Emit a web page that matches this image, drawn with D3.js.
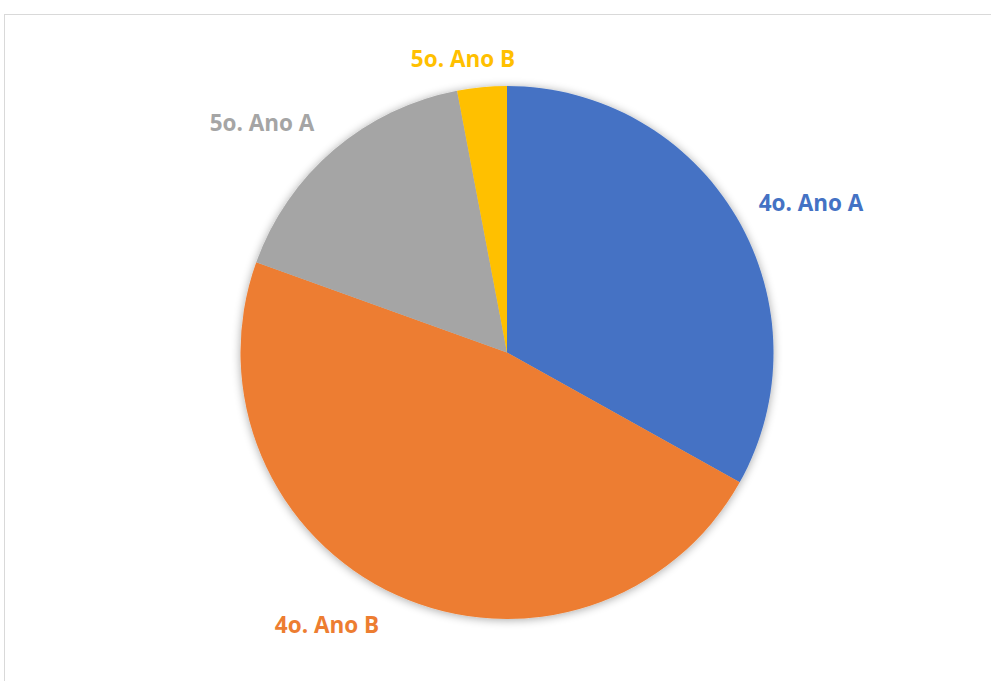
<!DOCTYPE html>
<html><head><meta charset="utf-8">
<script src="https://cdn.jsdelivr.net/npm/d3@7"></script>
<style>html,body{margin:0;padding:0;background:#fff;}svg{display:block;}</style>
</head><body>
<script>
const categories = ["4o. Ano A", "4o. Ano B", "5o. Ano A", "5o. Ano B"];
const values = [33.1, 47.4, 16.5, 3.0];
const colors = ["#4472C4", "#ED7D31", "#A5A5A5", "#FFC000"];
const labelPos = [[811, 211], [327, 633], [262, 131], [463, 67]];

const W = 991, H = 681;
const svg = d3.select("body").append("svg").attr("width", W).attr("height", H);
const defs = svg.append("defs");
const f = defs.append("filter").attr("id","sh").attr("x","-20%").attr("y","-20%").attr("width","140%").attr("height","140%");
f.append("feGaussianBlur").attr("in","SourceAlpha").attr("stdDeviation",5).attr("result","b");
f.append("feOffset").attr("in","b").attr("dx",0).attr("dy",1).attr("result","o");
f.append("feComponentTransfer").attr("in","o").attr("result","oc").append("feFuncA").attr("type","linear").attr("slope",0.35);
const m = f.append("feMerge"); m.append("feMergeNode").attr("in","oc"); m.append("feMergeNode").attr("in","SourceGraphic");

svg.append("rect").attr("x",4.5).attr("y",14.5).attr("width",W).attr("height",H)
  .attr("fill","#fff").attr("stroke","#d9d9d9").attr("stroke-width",1);

const cx = 507, cy = 352.5, r = 266.5;
const pie = d3.pie().sort(null).value(d => d)(values);
const arc = d3.arc().innerRadius(0).outerRadius(r);
const g = svg.append("g").attr("transform", `translate(${cx},${cy})`).attr("filter","url(#sh)");
g.selectAll("path").data(pie).join("path").attr("d", arc).attr("fill", (d,i) => colors[i]);

svg.selectAll("text.lbl").data(categories).join("text").attr("class","lbl")
  .attr("x",(d,i)=>labelPos[i][0]).attr("y",(d,i)=>labelPos[i][1])
  .attr("text-anchor","middle").attr("font-family","'Open Sans', sans-serif")
  .attr("font-weight",700).attr("font-size",22.5)
  .attr("fill",(d,i)=>colors[i]).text(d=>d);
</script>
</body></html>
